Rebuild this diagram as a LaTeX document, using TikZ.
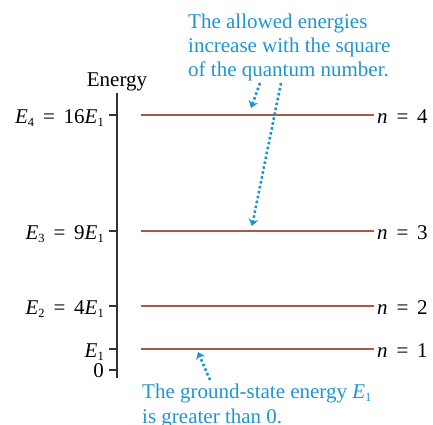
\documentclass[tikz,border=0pt]{standalone}
\usepackage{fontspec}
\setmainfont{Liberation Serif}
\usetikzlibrary{arrows.meta}
\definecolor{lvl}{RGB}{166,90,64}
\definecolor{note}{RGB}{30,150,205}
\definecolor{axis}{RGB}{50,50,50}
\newcommand\Ev[1]{\textit{E}\raisebox{-0.35ex}{\fontsize{12.5}{13}\selectfont #1}}
\newcommand\eqs{\hspace{0.42em}=\hspace{0.42em}}
\begin{document}
\begin{tikzpicture}[x=1pt,y=-1pt,
  txt/.style={inner sep=0pt,font=\fontsize{21}{24}\selectfont},
  lab/.style={txt,anchor=base east},
  nlab/.style={txt,anchor=base west},
  level/.style={draw=lvl,line width=2pt},
  tick/.style={draw=axis,line width=1.2pt},
  notetext/.style={txt,text=note,anchor=base west,align=left},
  dotarrow/.style={draw=note,line width=2.6pt,dash pattern=on 2.6pt off 2.4pt,
    -{Stealth[length=7pt,width=10pt,inset=2.5pt]}}]
\useasboundingbox (0,0) rectangle (433,424);
% axis
\coordinate (atop) at (117,93);
\coordinate (abot) at (117,378);
\draw[draw=axis,line width=1.5pt] (atop) -- (abot);
\node[txt,anchor=base] (energy) at (117,86) {Energy};
% ticks and levels
\foreach \nm/\y in {t4/115,t3/231,t2/306,t1/349,t0/370}{
  \coordinate (\nm) at (117,\y);
  \coordinate (\nm l) at (109,\y);
  \draw[tick] (\nm l) -- (\nm);
}
\foreach \nm/\y in {4/115,3/231,2/306,1/349}{
  \coordinate (L\nm a) at (141,\y);
  \coordinate (L\nm b) at (374,\y);
  \draw[level] (L\nm a) -- (L\nm b);
}
% left labels
\node[lab] (e4) at (104,123) {\Ev{4}\eqs 16\Ev{1}};
\node[lab] (e3) at (104,239) {\Ev{3}\eqs 9\Ev{1}};
\node[lab] (e2) at (104,314) {\Ev{2}\eqs 4\Ev{1}};
\node[lab] (e1) at (104,357) {\Ev{1}};
\node[lab] (e0) at (104,377) {0};
% right labels
\node[nlab] (n4) at (377,123) {\textit{n}\eqs 4};
\node[nlab] (n3) at (377,239) {\textit{n}\eqs 3};
\node[nlab] (n2) at (377,314) {\textit{n}\eqs 2};
\node[nlab] (n1) at (377,357) {\textit{n}\eqs 1};
% notes
\node[notetext] (top1) at (188,28) {The allowed energies};
\node[notetext] (top2) at (188,52) {increase with the square};
\node[notetext] (top3) at (188,76) {of the quantum number.};
\node[notetext] (bot1) at (142,398) {The ground-state energy \Ev{1}};
\node[notetext] (bot2) at (142,423) {is greater than 0.};
% arrows
\coordinate (s1) at (260,83);
\coordinate (h1) at (251,108);
\coordinate (s2) at (281,83);
\coordinate (h2) at (252,226);
\coordinate (s3) at (210,380);
\coordinate (h3) at (198,352);
\draw[dotarrow] (s1) -- (h1);
\draw[dotarrow] (s2) -- (h2);
\draw[dotarrow] (s3) -- (h3);
\end{tikzpicture}
\end{document}
